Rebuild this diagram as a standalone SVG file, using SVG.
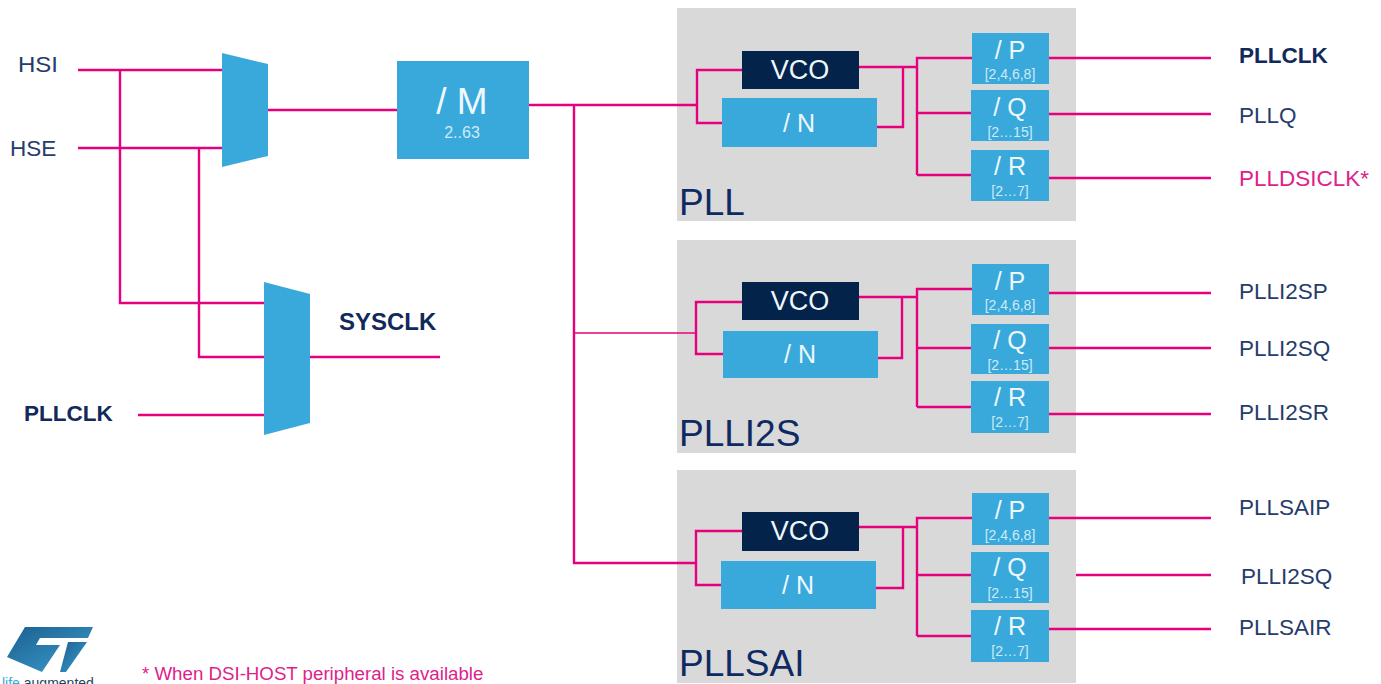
<svg xmlns="http://www.w3.org/2000/svg" width="1381" height="684" viewBox="0 0 1381 684">
<style>
text{font-family:"Liberation Sans",Arial,sans-serif}
.panel{fill:#d9d9d9}
.blue{fill:#39a9dc}
.navy{fill:#03234b}
.w{fill:#eef8fc;text-anchor:middle}
.lg{font-size:25px}
.vc{font-size:27px}
.sm{font-size:14px;fill:#cfeaf6}
.lab{font-size:22.5px;fill:#263c6b}
.b{font-weight:bold;fill:#12295c}
.pk{fill:#e0218a}
.title{font-size:37px;fill:#0f2a63}
#wires path{fill:none;stroke:#e6007e;stroke-width:2.4}
#wires path.thin{stroke-width:1.3}
</style>
<defs><linearGradient id="st" x1="0" y1="0" x2="1" y2="1"><stop offset="0" stop-color="#1c5f8f"/><stop offset="1" stop-color="#3a9fd0"/></linearGradient></defs>
<rect width="1381" height="684" fill="#fff"/>

<g id="panel-pll"><rect class="panel" x="677" y="8" width="399" height="213"/><text class="title" x="679" y="215">PLL</text></g>
<g id="panel-plli2s"><rect class="panel" x="677" y="240" width="399" height="213"/><text class="title" x="679" y="446">PLLI2S</text></g>
<g id="panel-pllsai"><rect class="panel" x="677" y="470" width="399" height="213"/><text class="title" x="679" y="676">PLLSAI</text></g>

<g id="wires">
<path d="M78 70H222M78 148H222M120 70V303H264M199 148V357H264M138 415H264M268 110H397M310 357H440"/>
<path d="M529 105H697M574 105V563H696"/>
<path class="thin" d="M574 333H696"/>
<path d="M742 70H697V123H722M859 67H917M877 127H903V67M917 175V58H972M917 113H971M917 175H971M1049 58H1211M1049 114H1211M1049 178H1211"/>
<path d="M742 302H696V354H723M859 297H917M878 358H902V297M917 407V289H972M917 348H971M917 407H971M1049 293H1211M1049 348H1211M1049 414H1211"/>
<path d="M696 563V531H742M696 563V585H721M859 527H917M876 588H903V527M917 636V518H972M917 575H971M917 636H971M1049 518H1211M1076 575H1211M1049 629H1211"/>
</g>

<g id="mux-pll"><polygon class="blue" points="222,53 268,64 268,156 222,167"/></g>
<g id="mux-sys"><polygon class="blue" points="264,282 310,294 310,423 264,435"/></g>
<g id="div-m"><rect class="blue" x="397" y="61" width="132" height="98"/><text class="w" x="462" y="114" font-size="37">/ M</text><text class="w sm" x="462" y="138" style="font-size:16px">2..63</text></g>

<g id="vco1"><rect class="navy" x="742" y="51" width="117" height="38"/><text class="w vc" x="800" y="79">VCO</text></g>
<g id="n1"><rect class="blue" x="722" y="98" width="155" height="49"/><text class="w lg" x="799" y="132">/ N</text></g>
<g id="p1"><rect class="blue" x="972" y="33" width="77" height="51"/><text class="w lg" x="1010" y="59">/ P</text><text class="w sm" x="1010" y="79">[2,4,6,8]</text></g>
<g id="q1"><rect class="blue" x="971" y="90" width="78" height="51"/><text class="w lg" x="1010" y="116">/ Q</text><text class="w sm" x="1010" y="137">[2…15]</text></g>
<g id="r1"><rect class="blue" x="971" y="150" width="78" height="51"/><text class="w lg" x="1010" y="175">/ R</text><text class="w sm" x="1010" y="196">[2…7]</text></g>

<g id="vco2"><rect class="navy" x="742" y="282" width="117" height="38"/><text class="w vc" x="800" y="310">VCO</text></g>
<g id="n2"><rect class="blue" x="723" y="331" width="155" height="47"/><text class="w lg" x="800" y="363">/ N</text></g>
<g id="p2"><rect class="blue" x="972" y="264" width="77" height="51"/><text class="w lg" x="1010" y="290">/ P</text><text class="w sm" x="1010" y="310">[2,4,6,8]</text></g>
<g id="q2"><rect class="blue" x="971" y="324" width="78" height="50"/><text class="w lg" x="1010" y="349">/ Q</text><text class="w sm" x="1010" y="370">[2…15]</text></g>
<g id="r2"><rect class="blue" x="971" y="381" width="78" height="52"/><text class="w lg" x="1010" y="406">/ R</text><text class="w sm" x="1010" y="427">[2…7]</text></g>

<g id="vco3"><rect class="navy" x="742" y="512" width="117" height="39"/><text class="w vc" x="800" y="540">VCO</text></g>
<g id="n3"><rect class="blue" x="721" y="561" width="155" height="48"/><text class="w lg" x="798" y="594">/ N</text></g>
<g id="p3"><rect class="blue" x="972" y="493" width="77" height="52"/><text class="w lg" x="1010" y="519">/ P</text><text class="w sm" x="1010" y="540">[2,4,6,8]</text></g>
<g id="q3"><rect class="blue" x="971" y="552" width="78" height="51"/><text class="w lg" x="1010" y="576">/ Q</text><text class="w sm" x="1010" y="598">[2…15]</text></g>
<g id="r3"><rect class="blue" x="971" y="610" width="78" height="52"/><text class="w lg" x="1010" y="635">/ R</text><text class="w sm" x="1010" y="656">[2…7]</text></g>

<g id="labels">
<text class="lab" x="18" y="72" textLength="40" lengthAdjust="spacingAndGlyphs">HSI</text>
<text class="lab" x="10" y="156">HSE</text>
<text class="lab b" x="24" y="421">PLLCLK</text>
<text class="lab b" x="339" y="330" style="font-size:24px">SYSCLK</text>
<text class="lab b" x="1239" y="63">PLLCLK</text>
<text class="lab" x="1239" y="123">PLLQ</text>
<text class="lab pk" x="1239" y="186">PLLDSICLK*</text>
<text class="lab" x="1239" y="299">PLLI2SP</text>
<text class="lab" x="1239" y="356">PLLI2SQ</text>
<text class="lab" x="1239" y="420">PLLI2SR</text>
<text class="lab" x="1239" y="515">PLLSAIP</text>
<text class="lab" x="1241" y="584">PLLI2SQ</text>
<text class="lab" x="1239" y="635">PLLSAIR</text>
<text class="pk" x="142" y="680" font-size="18.7">* When DSI-HOST  peripheral is available</text>
</g>

<g id="logo">
<path fill="url(#st)" d="M25 627H93L88 638H40L36 645H60L42 672L7 657Z"/>
<path fill="url(#st)" d="M68 642H87L66 672H60Z"/>
<text x="2" y="688" font-size="14" fill="#2a3f5f"><tspan fill="#39a9dc">life</tspan>.augmented</text>
</g>
</svg>
